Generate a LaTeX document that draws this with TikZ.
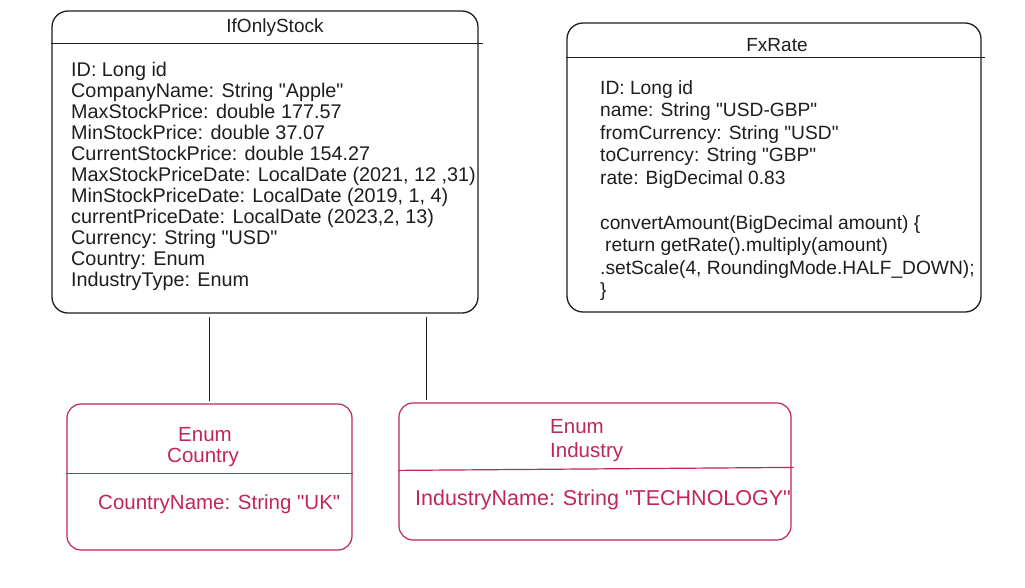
\documentclass[tikz,border=0pt]{standalone}
\usepackage{fontspec}
\setmainfont{Liberation Sans}[Ligatures=TeXOff]
\definecolor{ink}{HTML}{1E1E1E}
\definecolor{rose}{HTML}{C2255C}
\newcommand{\qq}{"}
\begin{document}
\begin{tikzpicture}[x=1pt,y=-1pt,
  classbox/.style={draw=ink, line width=1.3pt, rounded corners=16pt, inner sep=0pt},
  enumbox/.style={draw=rose, line width=1.2pt, rounded corners=14pt, inner sep=0pt},
  headline/.style={draw=ink, line width=1.2pt},
  enumline/.style={draw=rose, line width=1.2pt},
  titletext/.style={font=\fontsize{19}{21}\selectfont, inner sep=0pt, text=ink},
  body/.style={font=\fontsize{19.8}{21}\selectfont, align=left, inner sep=0pt, anchor=north west, text=ink},
  enumtext/.style={font=\fontsize{20.5}{21}\selectfont, inner sep=0pt, anchor=west, text=rose},
  conn/.style={draw=ink, line width=1pt, shorten <=3pt, shorten >=2pt}
]
\useasboundingbox[fill=white] (0,0) rectangle (1025,587);

% IfOnlyStock
\node[classbox, minimum width=426pt, minimum height=302pt] (stock) at (265,162) {};
\draw[headline] ([yshift=-33pt]stock.north west) -- ([yshift=-33pt,xshift=4pt]stock.north east);
\node[titletext] (stocktitle) at (275,28) {IfOnlyStock};
\node[body] (stockbody) at (71,62) {ID: Long id\\
CompanyName: String \qq Apple\qq\\
MaxStockPrice: double 177.57\\
MinStockPrice: double 37.07\\
CurrentStockPrice: double 154.27\\
MaxStockPriceDate: LocalDate (2021, 12 ,31)\\
MinStockPriceDate: LocalDate (2019, 1, 4)\\
currentPriceDate: LocalDate (2023,2, 13)\\
Currency: String \qq USD\qq\\
Country: Enum\\
IndustryType: Enum};

% FxRate
\node[classbox, minimum width=414pt, minimum height=289pt] (fx) at (774,167.5) {};
\draw[headline] ([yshift=-35pt]fx.north west) -- ([yshift=-35pt,xshift=3pt]fx.north east);
\node[titletext] (fxtitle) at (777,45) {FxRate};
\node[body, font=\fontsize{19.2}{22.5}\selectfont] (fxbody) at (600,80) {ID: Long id\\
name: String \qq USD-GBP\qq\\
fromCurrency: String \qq USD\qq\\
toCurrency: String \qq GBP\qq\\
rate: BigDecimal 0.83\\[22.5pt]
convertAmount(BigDecimal amount) \{\\
\hspace{5pt}return getRate().multiply(amount)\\
.setScale(4, RoundingMode.HALF\_DOWN);\\
\}};

% Enum Country
\node[enumbox, minimum width=285pt, minimum height=146pt] (country) at (209.5,477) {};
\draw[enumline] ([yshift=-70pt]country.north west) -- ([yshift=-70pt]country.north east);
\node[enumtext] (countryenum) at (178,435) {Enum};
\node[enumtext] (countryname) at (167,457) {Country};
\node[enumtext] (countrybody) at (98,504) {CountryName: String \qq UK\qq};

% Enum Industry
\node[enumbox, minimum width=392pt, minimum height=137pt] (industry) at (595,471.5) {};
\draw[enumline] ([yshift=-68pt]industry.north west) -- ([yshift=-65pt,xshift=2pt]industry.north east);
\node[enumtext] (industryenum) at (550,427) {Enum};
\node[enumtext] (industryname) at (550,452) {Industry};
\node[enumtext, font=\fontsize{21.5}{22}\selectfont] (industrybody) at (415,500) {IndustryName: String \qq TECHNOLOGY\qq};

% connectors
\coordinate (joint) at (426,0);
\draw[conn] (stock.south -| country.north) -- (country.north);
\draw[conn] (stock.south -| joint) -- (industry.north -| joint);
\end{tikzpicture}
\end{document}
